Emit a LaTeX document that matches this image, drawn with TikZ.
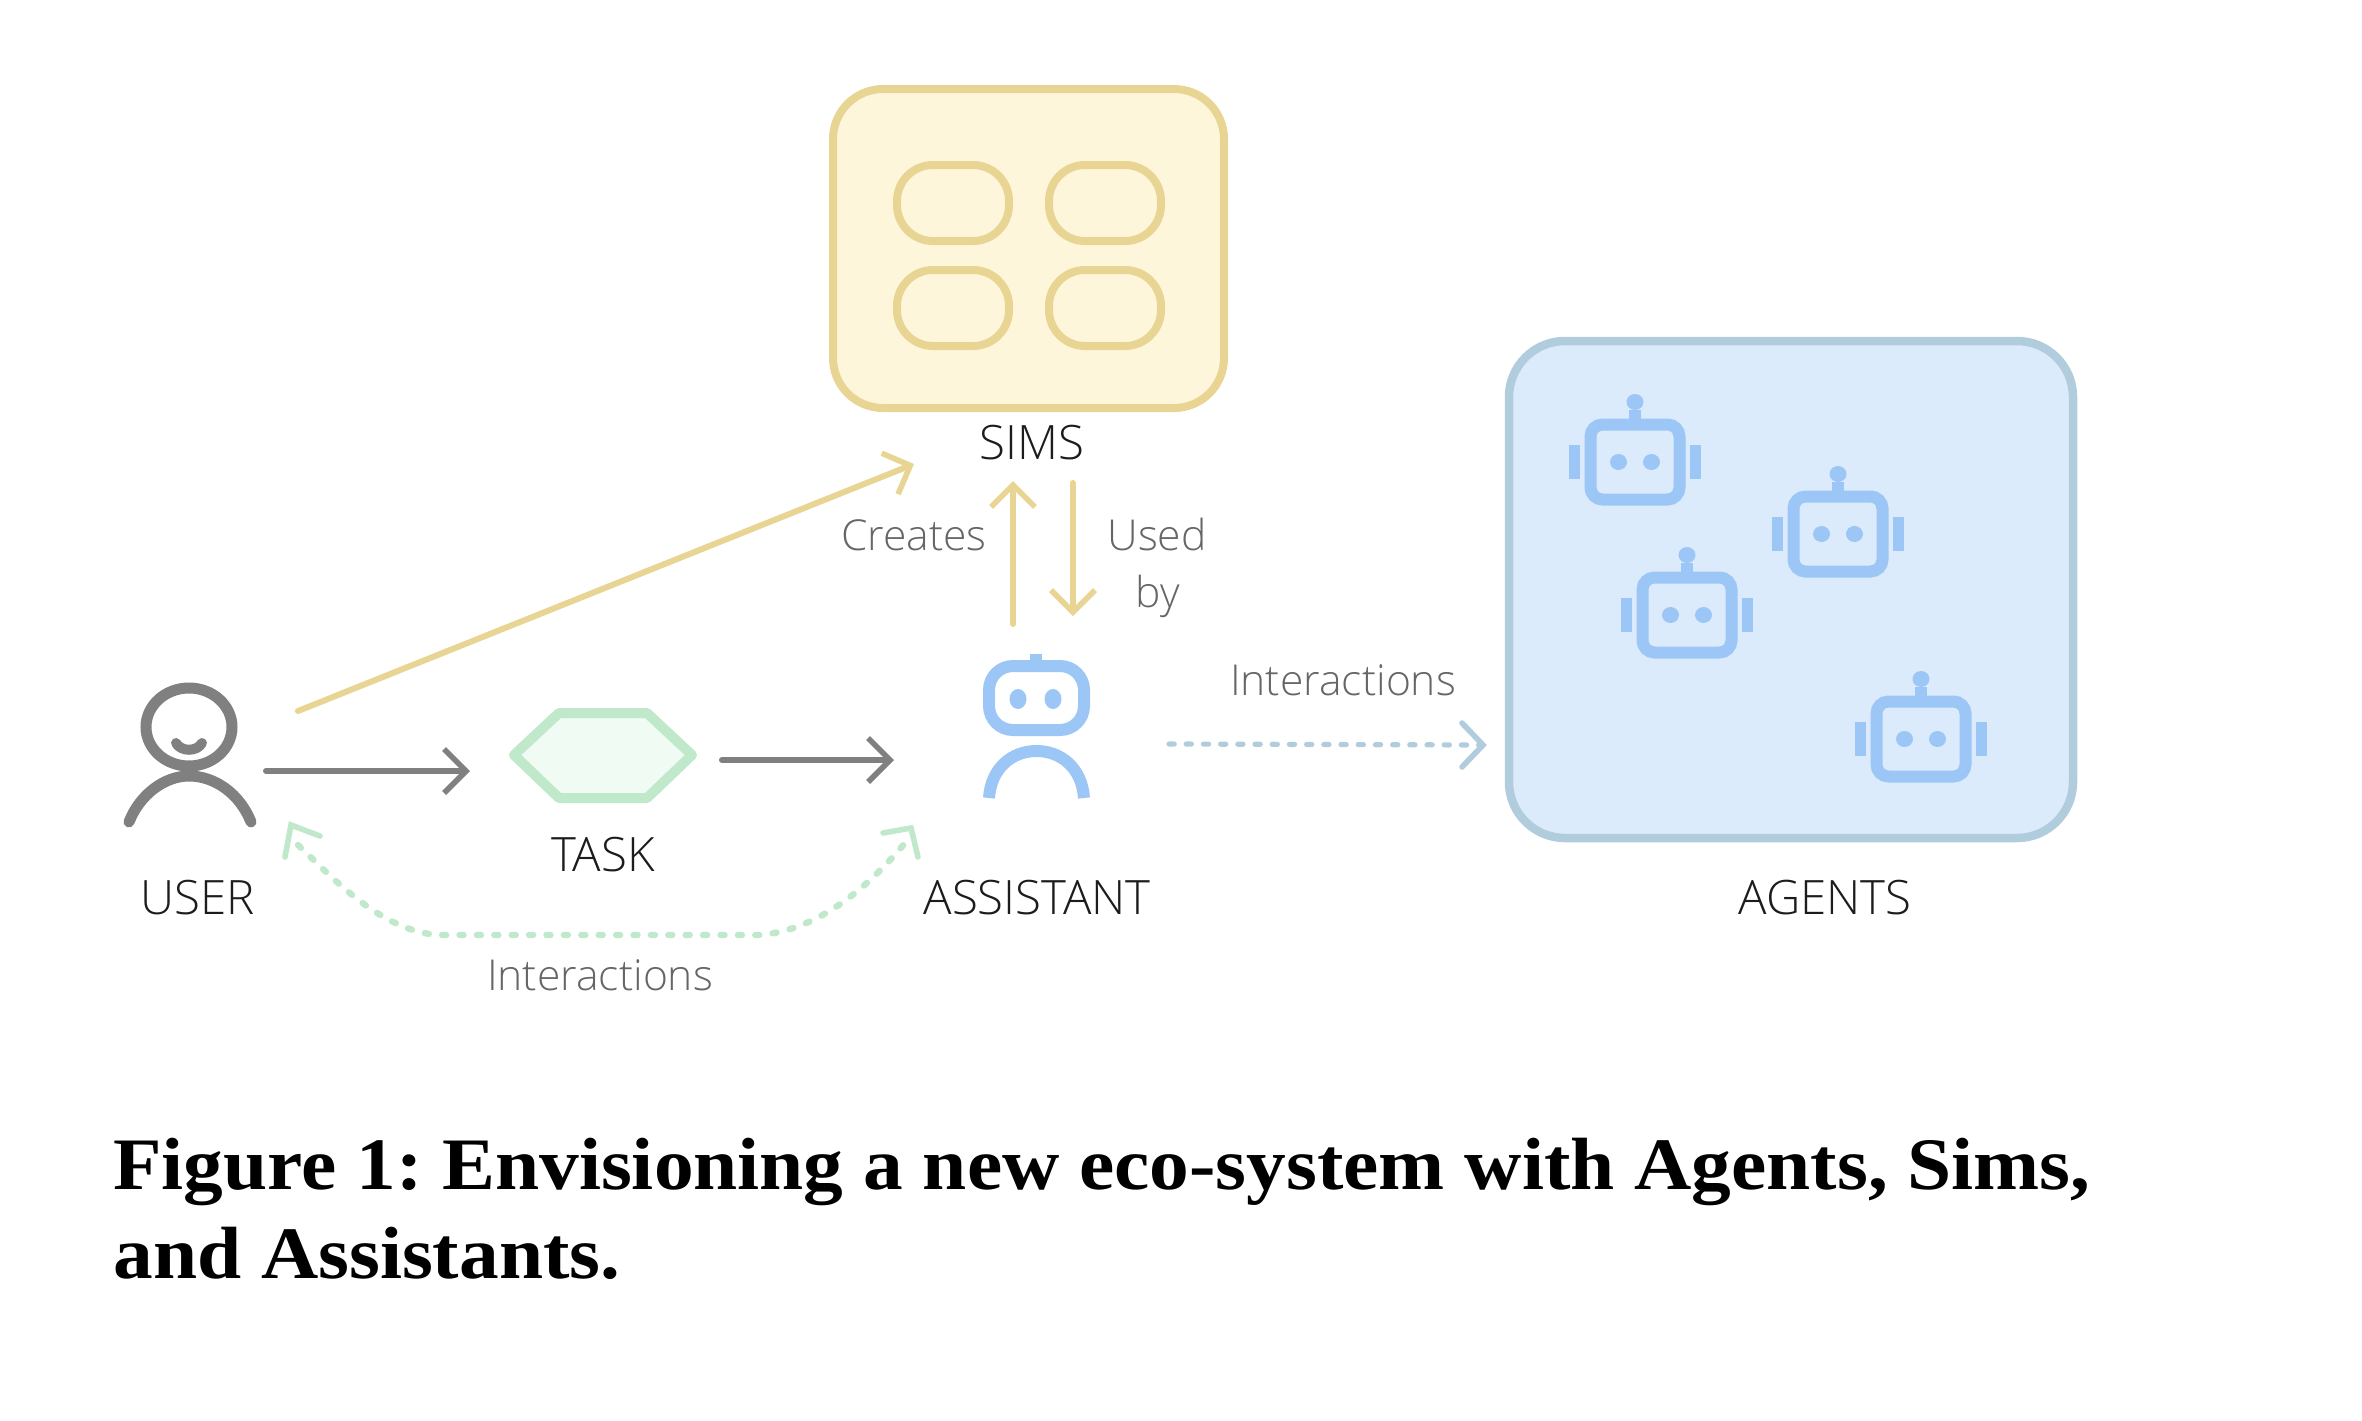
\documentclass[tikz,border=0pt]{standalone}
\usepackage{fontspec}
\setmainfont{Liberation Serif}[FakeStretch=1.072]
\newfontfamily\lab{Open Sans Light}
\usetikzlibrary{arrows.meta}
\definecolor{gy}{HTML}{808080}
\definecolor{yl}{HTML}{E8D594}
\definecolor{ylf}{HTML}{FEF6DA}
\definecolor{gn}{HTML}{C0E8CA}
\definecolor{gnf}{HTML}{EFFBF3}
\definecolor{bl}{HTML}{9CC6F5}
\definecolor{bls}{HTML}{B1CDDD}
\definecolor{blf}{HTML}{DCEBFB}
\definecolor{txd}{HTML}{1C1C1C}
\definecolor{txg}{HTML}{666666}
\tikzset{
 conn/.style={-{Straight Barb[length=11pt,width=22pt,line width=2.8pt]},line width=3pt,line cap=round},
 lbl/.style={font=\lab\fontsize{23.7pt}{23.7pt}\selectfont,text=txd,anchor=base,inner sep=0pt},
 note/.style={font=\lab\fontsize{21.3pt}{21.3pt}\selectfont,text=txg,anchor=base,inner sep=0pt},
 captext/.style={font=\fontsize{37pt}{37pt}\selectfont\bfseries\frenchspacing,text=black,anchor=base west,inner sep=0pt},
 pill/.style={draw=yl,line width=4pt,rounded corners=18pt},
 eye/.style={fill=bl,draw=none},
 robot/.pic={
   \fill[bl] (-6,-52) rectangle (6,-36);
   \fill[bl] (0,-60) ellipse[x radius=8.5,y radius=8];
   \draw[bl,line width=6pt,rounded corners=6pt,fill=none] (-44.5,-37.5) rectangle (44.5,37.5);
   \fill[bl] (-66,-17) rectangle (-55,17);
   \fill[bl] (55,-17) rectangle (66,17);
   \fill[eye] (-16.5,0) ellipse[x radius=8.5,y radius=8];
   \fill[eye] (16.5,0) ellipse[x radius=8.5,y radius=8];
 }
}
\begin{document}
\begin{tikzpicture}[x=0.5pt,y=-0.5pt]
\useasboundingbox (0,0) rectangle (2362,1420);
% boxes
\node[draw=yl,fill=ylf,line width=4pt,rounded corners=25pt,minimum width=195.5pt,minimum height=159.5pt,inner sep=0pt] (sims) at (1028.5,248.5) {};
\foreach \a/\x/\y in {a/897/165,b/1049/165,c/897/270,d/1049/270}
  \draw[pill] (\x,\y) rectangle ++(112,76);
\node[draw=bls,fill=blf,line width=4.25pt,rounded corners=28pt,minimum width=282pt,minimum height=248.5pt,inner sep=0pt] (agents) at (1791,589.5) {};
\foreach \x/\y in {1635/462,1838/534,1687/615,1921/739}
  \pic at (\x,\y) {robot};
% user
\node[inner sep=0pt,minimum width=61pt,minimum height=72pt] (user) at (190,755) {};
\draw[gy,line width=5.5pt] (189,727) ellipse[x radius=43,y radius=39];
\draw[gy,line width=5pt,line cap=round] (176,743) .. controls (181,752) and (197,752) .. (202,743);
\draw[gy,line width=5.5pt,line cap=round] (129,822) .. controls (140,794) and (165,776) .. (189,776) .. controls (215,776) and (240,794) .. (251,822);
% task
\node[inner sep=0pt,minimum width=95pt,minimum height=47.5pt] (task) at (603,755) {};
\draw[gn,fill=gnf,line width=5pt,line join=round] (514,755) -- (559,713) -- (647,713) -- (692,755) -- (647,798) -- (559,798) -- cycle;
% assistant
\node[inner sep=0pt,minimum width=54pt,minimum height=72pt] (assistant) at (1036,727) {};
\fill[bl] (1030,654) rectangle (1042,664);
\draw[bl,line width=6pt,rounded corners=12pt] (989,666) rectangle (1084,730);
\fill[bl] (1018,699) ellipse[x radius=8.5,y radius=10];
\fill[bl] (1053,699) ellipse[x radius=8.5,y radius=10];
\draw[bl,line width=6pt] (989,798) .. controls (991,768) and (1012,751) .. (1036.5,751) .. controls (1061,751) and (1082,768) .. (1084,798);
% connector ends
\coordinate (userTaskA) at (266,771);
\coordinate (userTaskB) at (470,771);
\coordinate (taskAsstA) at (722,760);
\coordinate (taskAsstB) at (894,760);
\coordinate (userSimsA) at (298,711);
\coordinate (userSimsB) at (914,464);
\coordinate (asstSimsA) at (1013,624);
\coordinate (asstSimsB) at (1013,481);
\coordinate (simsAsstA) at (1073,483);
\coordinate (simsAsstB) at (1073,616);
\coordinate (asstAgentsA) at (1169,744);
\coordinate (asstAgentsB) at (1483,745);
\coordinate (asstUserR) at (911,828);
\coordinate (asstUserL) at (291,825);
% connectors
\draw[conn,gy] (userTaskA) -- (userTaskB);
\draw[conn,gy] (taskAsstA) -- (taskAsstB);
\draw[conn,yl] (userSimsA) -- (userSimsB);
\draw[conn,yl] (asstSimsA) -- (asstSimsB);
\draw[conn,yl] (simsAsstA) -- (simsAsstB);
\draw[bls,line width=2.6pt,line cap=round,dash pattern=on 2.6pt off 6pt] (asstAgentsA) -- (asstAgentsB);
\draw[bls,line width=2.8pt,line cap=round] (1462,723) -- (asstAgentsB) -- (1462,767);
\draw[gn,line width=3.2pt,line cap=round,dash pattern=on 2pt off 6.7pt] (298,845) .. controls (335,880) and (380,930) .. (438,935) -- (760,935) .. controls (820,930) and (870,885) .. (905,843);
\draw[gn,line width=2.8pt,line cap=round] (320,836) -- (asstUserL) -- (285,857);
\draw[gn,line width=2.8pt,line cap=round] (883,833) -- (asstUserR) -- (918,857);
% labels
\node[lbl] (lsims) at (1032,459) {SIMS};
\node[lbl] (luser) at (198,914) {USER};
\node[lbl] (ltask) at (603,871) {TASK};
\node[lbl] (lasst) at (1037,914) {ASSISTANT};
\node[lbl] (lagents) at (1825,914) {AGENTS};
\node[note] (ncreates) at (914,550.5) {Creates};
\node[note] (nused) at (1157,550.5) {Used};
\node[note] (nby) at (1158,607.5) {by};
\node[note] (nint1) at (1343,695.5) {Interactions};
\node[note] (nint2) at (600,990.5) {Interactions};
% caption
\node[captext] (c1) at (113,1189) {Figure 1: Envisioning a new eco-system with Agents, Sims,};
\node[captext] (c2) at (113,1278) {and Assistants.};
\end{tikzpicture}
\end{document}
